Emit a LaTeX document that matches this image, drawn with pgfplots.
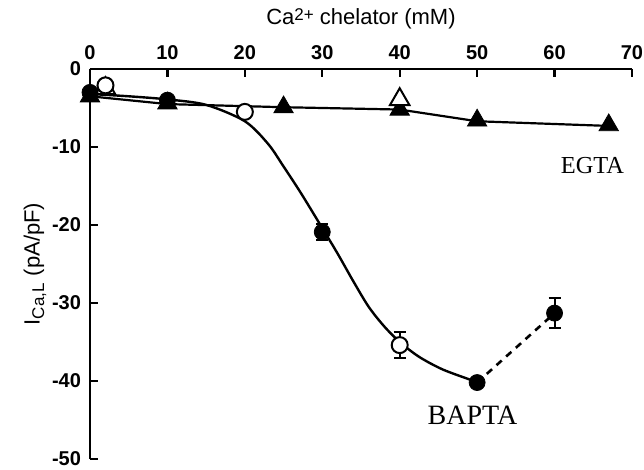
\documentclass[border=0pt]{standalone}
\usepackage{pgfplots}
\pgfplotsset{compat=1.18}
\usepackage{fontspec}
\setmainfont{Liberation Sans}
\newfontfamily\timesfont{Liberation Serif}

\begin{document}
\begin{tikzpicture}
  % frame of the whole figure (axis box starts at 0,0)
  \useasboundingbox (-45pt,-5.5pt) rectangle (277pt,229.5pt);
  \begin{axis}[
    scale only axis, width=271pt, height=195pt,
    xmin=0, xmax=70, ymin=-50, ymax=0,
    axis x line=top, axis y line=left,
    axis line style={-, line width=1.3pt},
    xtick={0,10,...,70}, ytick={-50,-40,...,0},
    tick align=inside, major tick length=4pt,
    tick style={line width=1.1pt, black},
    tick label style={font=\fontsize{10}{11}\selectfont\bfseries},
    yticklabel style={xshift=-1pt},
    xticklabel style={yshift=1pt},
    /pgf/number format/assume math mode=true,
    clip=false,
  ]
    % BAPTA fit curve
    \addplot[black, line width=1.2pt, smooth, no marks] coordinates {
      (0,-3.2) (5,-3.5) (10,-3.9) (15,-4.6) (20,-6.7) (23,-9.6) (25,-12.5)
      (27.3,-16) (30,-20.4) (32,-23.7) (34,-27.2) (36,-30.5) (38,-33)
      (40,-35) (42.5,-36.9) (45.5,-38.5) (49,-39.8) (50,-40.2)};
    % BAPTA 50 -> 60 dashed
    \addplot[black, line width=1.3pt, dash pattern=on 3.5pt off 3pt, no marks]
      coordinates {(50,-40.2) (60,-31.3)};
    % EGTA connecting line
    \addplot[black, line width=1.1pt, no marks] coordinates {
      (0,-3.5) (10,-4.5) (25,-4.9) (40,-5.2) (50,-6.7) (67,-7.3)};
    % EGTA filled triangles
    \addplot[only marks, mark=triangle*, mark size=5.6pt, black, fill=black] coordinates {
      (0,-3.5) (10,-4.4) (25,-4.9) (40,-5.2) (50,-6.6) (67,-7.2)};
    % EGTA open triangles
    \addplot[only marks, mark=triangle*, mark size=5.6pt, black, fill=white, line width=1pt] coordinates {
      (2,-2.5) (40,-3.9)};
    % BAPTA filled circles
    \addplot[only marks, mark=*, mark size=4pt, black, fill=black,
      error bars/.cd, y dir=both, y explicit,
      error bar style={line width=1pt},
      error mark options={rotate=90, mark size=3pt, line width=1pt}]
      coordinates {
      (0,-3) +- (0,0) (10,-4.0) +- (0,0) (30,-20.9) +- (0,1.0)
      (50,-40.2) +- (0,0.5) (60,-31.3) +- (0,1.9)};
    % BAPTA open circles
    \addplot[only marks, mark=*, mark size=4pt, black, fill=white, line width=1pt,
      error bars/.cd, y dir=both, y explicit,
      error bar style={line width=1pt},
      error mark options={rotate=90, mark size=3pt, line width=1pt}]
      coordinates {
      (2,-2.1) +- (0,0) (20,-5.5) +- (0,0) (40,-35.4) +- (0,1.7)};
    \node[font=\timesfont\fontsize{12.2}{13}\selectfont] at (axis cs:64.9,-12.4) {EGTA};
    \node[font=\timesfont\fontsize{14}{15}\selectfont] at (axis cs:49.4,-44.4) {BAPTA};
    % axis titles
    \node[font=\fontsize{11}{12}\selectfont] at ([yshift=25pt]rel axis cs:0.5,1)
      {Ca\raisebox{0.35ex}{\fontsize{8.5}{9}\selectfont 2+} chelator (mM)};
    \node[font=\fontsize{11}{12}\selectfont, rotate=90] at ([xshift=-27.5pt]rel axis cs:0,0.5)
      {I\textsubscript{\fontsize{8.5}{9}\selectfont Ca,L} (pA/pF)};
  \end{axis}
\end{tikzpicture}
\end{document}
